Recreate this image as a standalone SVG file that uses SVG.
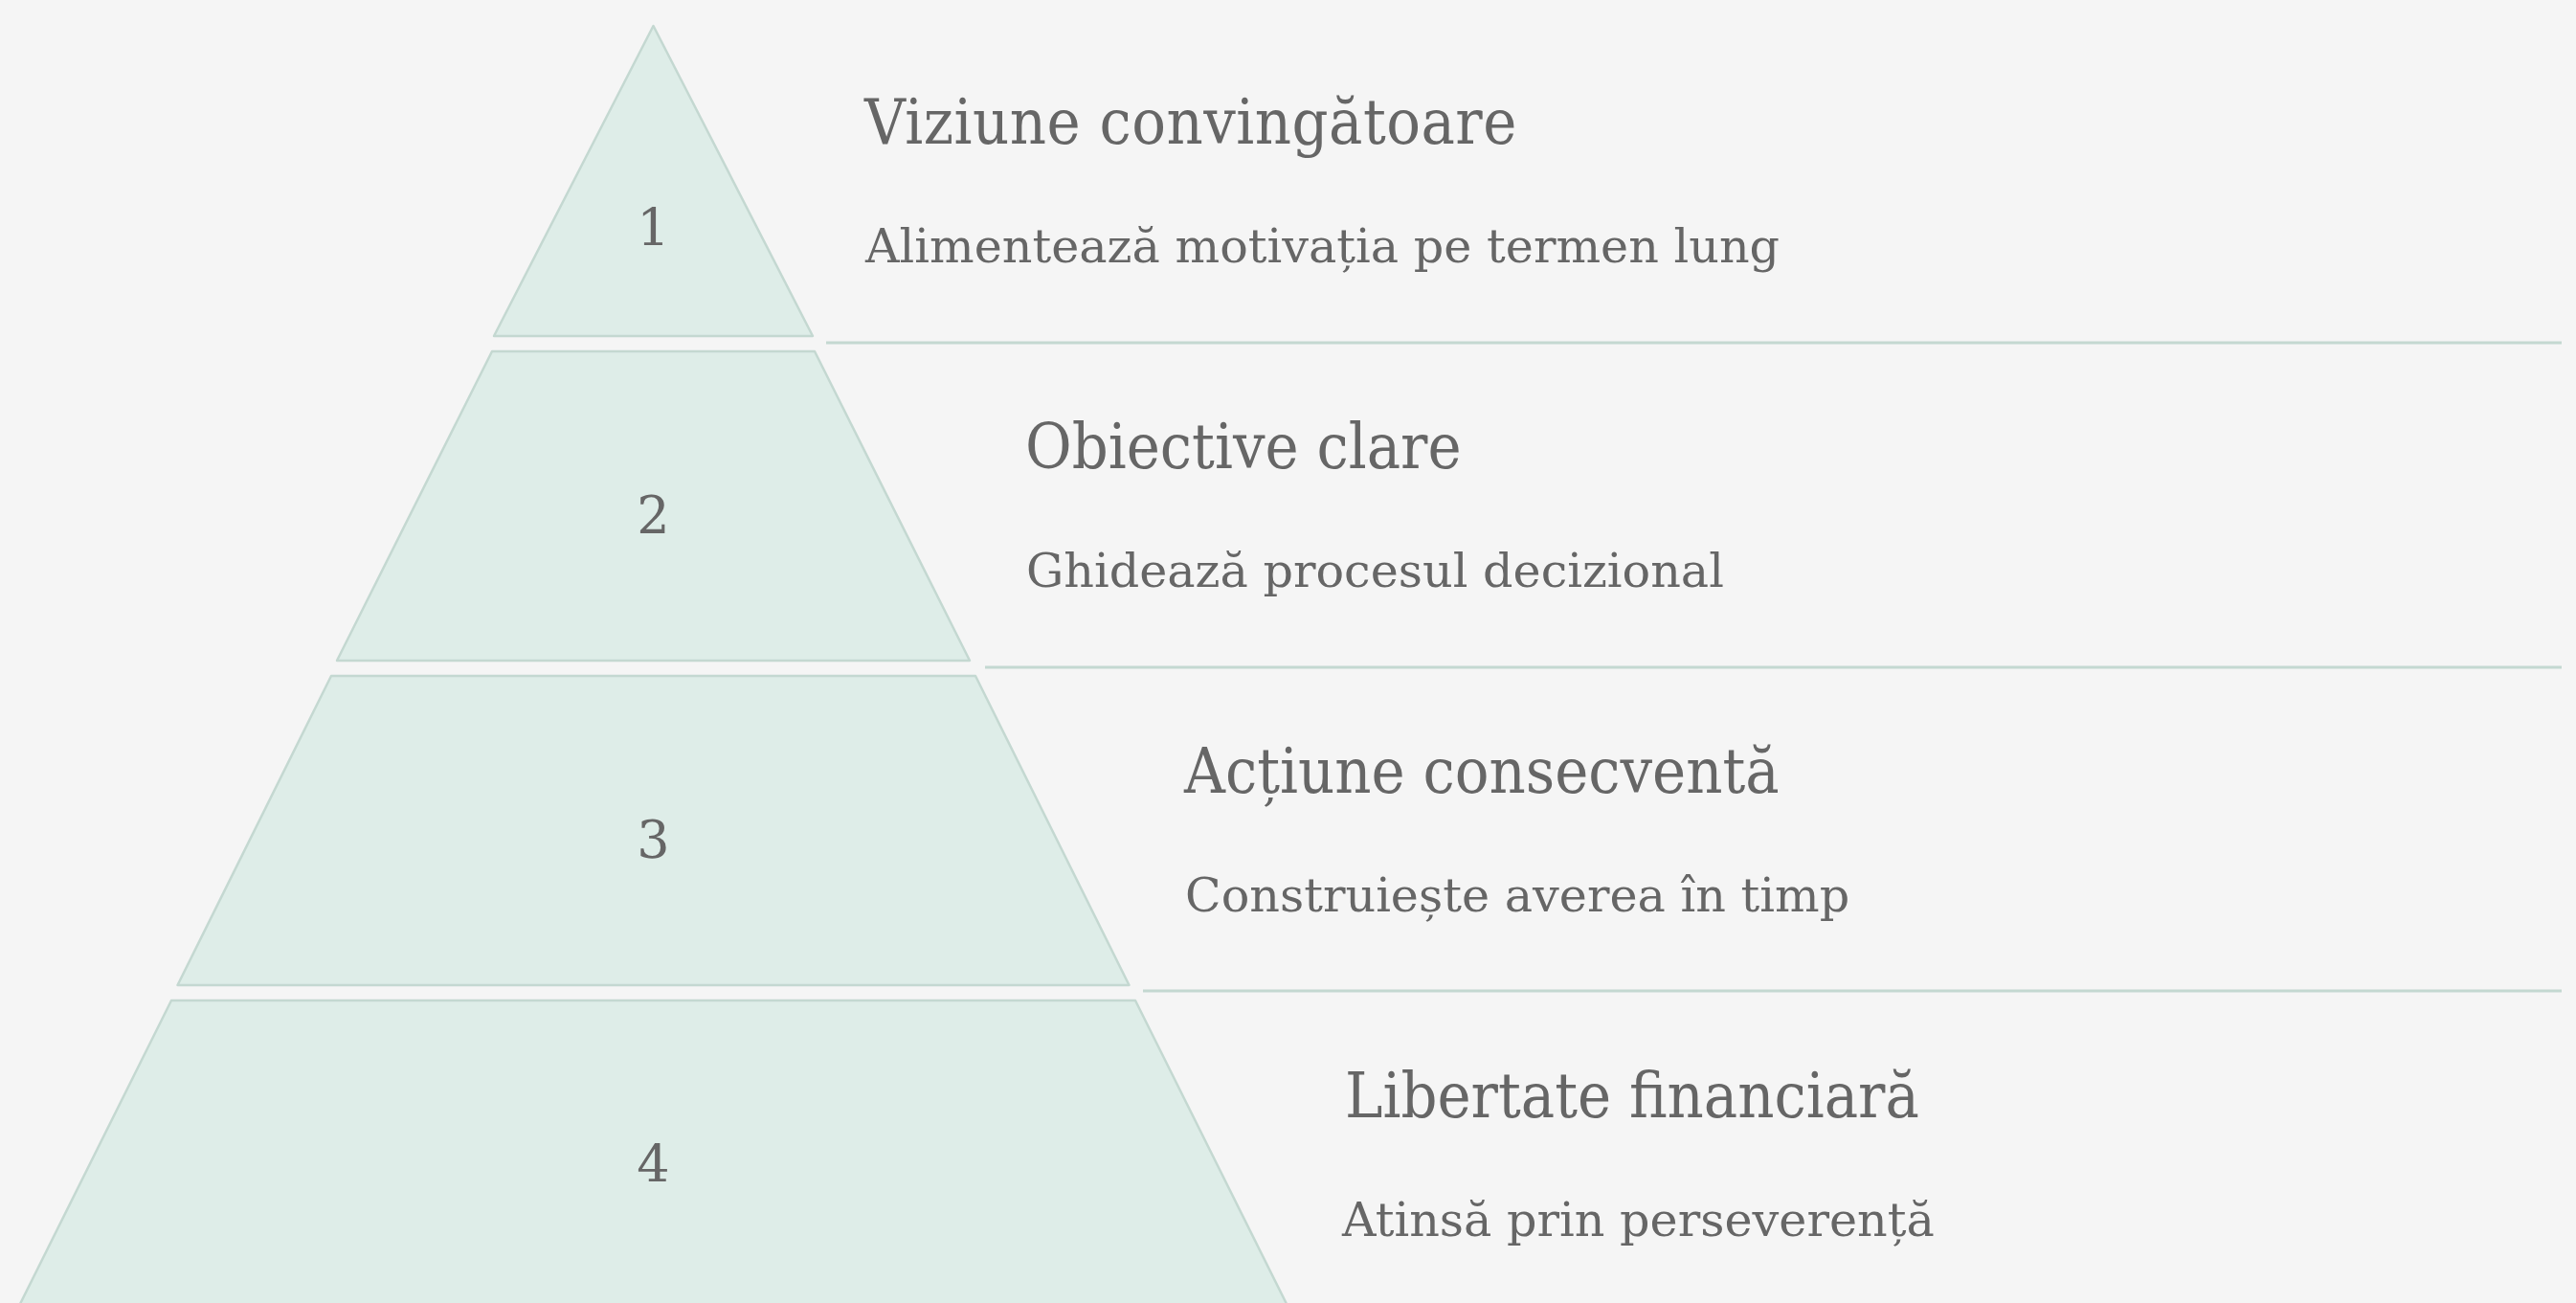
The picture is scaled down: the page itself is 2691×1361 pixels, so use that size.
<svg xmlns="http://www.w3.org/2000/svg" width="2691" height="1361" viewBox="0 0 2691 1361">
<style>
.layer{fill:#deede8;stroke:#c4d8d1;stroke-width:2.5;stroke-linejoin:round}
.sep{stroke:#c4d8d1;stroke-width:3.2;fill:none}
.num{font-family:"DejaVu Serif","Liberation Serif",serif;font-size:54px;fill:#666666;text-anchor:middle}
.title{font-family:"DejaVu Serif Condensed","DejaVu Serif","Liberation Serif",serif;font-stretch:condensed;font-size:66px;fill:#666666}
.sub{font-family:"DejaVu Serif","Liberation Serif",serif;font-size:49.2px;fill:#666666}
</style>
<rect width="2691" height="1361" fill="#f5f5f5"/>
<g id="connectors">
<line class="sep" x1="863" y1="358" x2="2676" y2="358"/>
<line class="sep" x1="1029" y1="697" x2="2676" y2="697"/>
<line class="sep" x1="1194" y1="1035" x2="2676" y2="1035"/>
</g>
<g id="level1">
<polygon class="layer" points="682.5,27 849,351 516,351"/>
<text class="num" x="682.5" y="257">1</text>
<text class="title" x="903" y="150" letter-spacing="0.5">Viziune convingătoare</text>
<text class="sub" x="904" y="274">Alimentează motivația pe termen lung</text>
</g>
<g id="level2">
<polygon class="layer" points="514,367 851,367 1013,690 352,690"/>
<text class="num" x="682.5" y="557">2</text>
<text class="title" x="1071" y="489">Obiective clare</text>
<text class="sub" x="1072" y="613">Ghidează procesul decizional</text>
</g>
<g id="level3">
<polygon class="layer" points="346,706 1019,706 1179.5,1029 185.5,1029"/>
<text class="num" x="682.5" y="896">3</text>
<text class="title" x="1237" y="828">Acțiune consecventă</text>
<text class="sub" x="1238" y="952">Construiește averea în timp</text>
</g>
<g id="level4">
<polygon class="layer" points="179,1045 1186,1045 1347,1368 18,1368"/>
<text class="num" x="682.5" y="1235">4</text>
<text class="title" x="1405" y="1167">Libertate financiară</text>
<text class="sub" x="1402" y="1291">Atinsă prin perseverență</text>
</g>
</svg>
